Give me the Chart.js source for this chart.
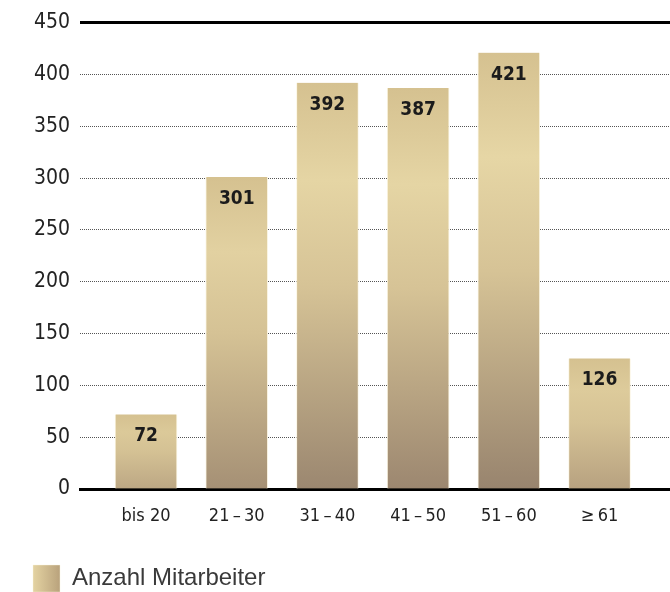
<!DOCTYPE html>
<html lang="de">
<head>
<meta charset="utf-8">
<title>Mitarbeiter nach Alter</title>
<script src="https://cdn.jsdelivr.net/npm/chart.js@4.4.1/dist/chart.umd.min.js"></script>
<style>
  html, body { margin: 0; padding: 0; background: #fff; }
  #wrap { width: 670px; height: 592px; position: relative; }
</style>
</head>
<body>
<div id="wrap"><canvas id="ageChart"></canvas></div>
<script>
const ageGroups = ['bis 20', '21\u2009\u2013\u200930', '31\u2009\u2013\u200940', '41\u2009\u2013\u200950', '51\u2009\u2013\u200960', '\u2265\u200961'];
const employees = [72, 301, 392, 387, 421, 126];
const yTicks = [0, 50, 100, 150, 200, 250, 300, 350, 400, 450];
const seriesName = 'Anzahl Mitarbeiter';

// condensed face; the stretch keyword goes in through the weight slot
const narrow = '"Liberation Sans Narrow", "DejaVu Sans", sans-serif';

function mix(a, b, t) {
  const pa = a.match(/\w\w/g).map(h => parseInt(h, 16));
  const pb = b.match(/\w\w/g).map(h => parseInt(h, 16));
  return 'rgb(' + pa.map((v, i) => Math.round(v + (pb[i] - v) * t)).join(',') + ')';
}

// vertical gold fade per bar, darker at the foot the taller the bar is
function barFill(ctx) {
  const chart = ctx.chart;
  const y = chart.scales.y;
  if (!chart.chartArea || !y || ctx.parsed === undefined) return '#d9c697';
  const v = ctx.parsed.y;
  const top = y.getPixelForValue(v);
  const base = y.getPixelForValue(0);
  const h = v / Math.max(...employees);
  const g = chart.ctx.createLinearGradient(0, top, 0, base);
  g.addColorStop(0, '#d5c190');
  g.addColorStop(0.24, mix('d9c697', 'e6d6a5', h));
  g.addColorStop(0.5, mix('d4c194', 'd6c396', h));
  g.addColorStop(1, mix('c4ae88', '98846e', h));
  return g;
}

const valueLabels = {
  id: 'valueLabels',
  afterDatasetsDraw(chart) {
    const ctx = chart.ctx;
    const meta = chart.getDatasetMeta(0);
    ctx.save();
    ctx.font = 'bold condensed 19px ' + narrow;
    ctx.fillStyle = '#1b1b1b';
    ctx.textAlign = 'center';
    ctx.textBaseline = 'middle';
    meta.data.forEach((bar, i) => {
      ctx.fillText(String(employees[i]), bar.x, bar.y + 22);
    });
    ctx.restore();
  }
};

// legend swatch shades left to right
const legendSwatch = {
  id: 'legendSwatch',
  beforeDraw(chart) {
    const lg = chart.legend;
    if (!lg || !lg.legendHitBoxes.length) return;
    const hb = lg.legendHitBoxes[0];
    const g = chart.ctx.createLinearGradient(hb.left, 0, hb.left + 27, 0);
    g.addColorStop(0, '#e4d3a2');
    g.addColorStop(1, '#b9a27c');
    lg.legendItems[0].fillStyle = g;
  }
};

new Chart(document.getElementById('ageChart'), {
  type: 'bar',
  data: {
    datasets: [{
      label: seriesName,
      data: employees.map((v, i) => ({ x: i, y: v })),
      backgroundColor: barFill,
      borderColor: 'rgba(250,244,222,0.8)',
      borderWidth: { left: 1, right: 1, top: 0, bottom: 0 },
      borderSkipped: false,
      barThickness: 62
    }]
  },
  options: {
    responsive: true,
    maintainAspectRatio: false,
    animation: false,
    layout: { padding: { top: 16, left: 27, right: 0, bottom: -10 } },
    plugins: {
      tooltip: { enabled: false },
      legend: {
        position: 'bottom',
        align: 'start',
        labels: {
          boxWidth: 27,
          boxHeight: 27,
          padding: 6,
          color: '#3a3a3a',
          font: { family: '"Liberation Sans", Arial, sans-serif', size: 24 }
        }
      }
    },
    scales: {
      x: {
        type: 'linear',
        offset: false,
        min: -0.728,
        max: 5.777,
        afterBuildTicks: s => { s.ticks = ageGroups.map((_, i) => ({ value: i })); },
        afterFit: s => { s.height = 70; },
        grid: { display: false, offset: false },
        border: { display: true, color: '#000', width: 3 },
        ticks: {
          autoSkip: false,
          maxRotation: 0,
          padding: 9,
          color: '#222',
          font: { family: narrow, size: 18, weight: 'condensed' },
          callback: v => ageGroups[v]
        }
      },
      y: {
        min: 0,
        max: 450,
        afterBuildTicks: s => { s.ticks = yTicks.map(v => ({ value: v })); },
        afterFit: s => { s.width = 53; },
        border: {
          display: false,
          dash: c => (c.tick && c.tick.value === 450) ? [] : [1, 1]
        },
        grid: {
          drawTicks: false,
          color: c => (c.tick && c.tick.value === 450) ? '#000' : '#555',
          lineWidth: c => (c.tick && c.tick.value === 450) ? 3 : 1
        },
        ticks: {
          padding: 10,
          color: '#222',
          font: { family: narrow, size: 21, weight: 'condensed' }
        }
      }
    }
  },
  plugins: [valueLabels, legendSwatch]
});
</script>
</body>
</html>
